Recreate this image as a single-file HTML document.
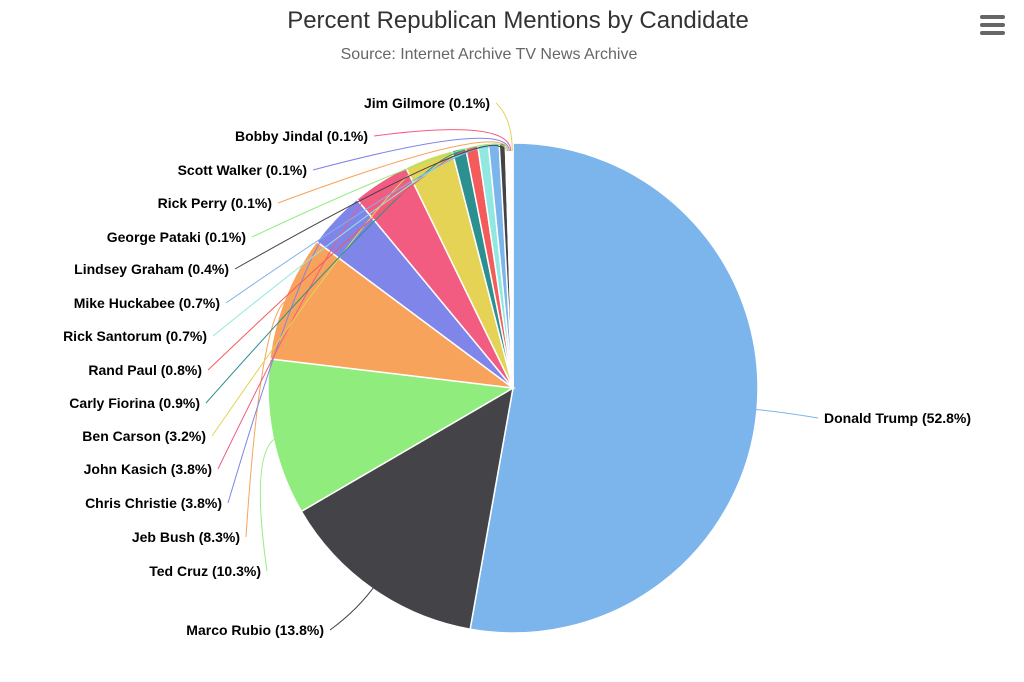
<!DOCTYPE html>
<html><head><meta charset="utf-8"><style>
body{margin:0;background:#fff;width:1024px;height:682px;overflow:hidden;font-family:"Liberation Sans",Arial,sans-serif}
svg{display:block}
</style></head><body>
<svg id="chart" width="1024" height="682" xmlns="http://www.w3.org/2000/svg">
<text x="518" y="28" text-anchor="middle" font-size="24" fill="#333">Percent Republican Mentions by Candidate</text>
<text x="489" y="59" text-anchor="middle" font-size="16" fill="#666">Source: Internet Archive TV News Archive</text>
<g>
<rect x="980" y="15" width="25" height="4" rx="2" fill="#666"/>
<rect x="980" y="23" width="25" height="4" rx="2" fill="#666"/>
<rect x="980" y="31" width="25" height="4" rx="2" fill="#666"/>
</g>
<g id="slices"></g><g id="conns"></g><g id="labels"></g>
</svg>
<script>
const names=["Donald Trump","Marco Rubio","Ted Cruz","Jeb Bush","Chris Christie","John Kasich","Ben Carson","Carly Fiorina","Rand Paul","Rick Santorum","Mike Huckabee","Lindsey Graham","George Pataki","Rick Perry","Scott Walker","Bobby Jindal","Jim Gilmore"];
const values=[52.8,13.8,10.3,8.3,3.8,3.8,3.2,0.9,0.8,0.7,0.7,0.4,0.1,0.1,0.1,0.1,0.1];
const colors=["#7cb5ec","#434348","#90ed7d","#f7a35c","#8085e9","#f15c80","#e4d354","#2b908f","#f45b5b","#91e8e1","#7cb5ec","#434348","#90ed7d","#f7a35c","#8085e9","#f15c80","#e4d354"];
// label layout (pixel positions: anchor end x and baseline y)
const labelPos=[[824,423,"start"],[324,635,"end"],[261,576,"end"],[240,542,"end"],[222,508,"end"],[212,474,"end"],[206,441,"end"],[200,408,"end"],[202,375,"end"],[207,341,"end"],[220,308,"end"],[229,274,"end"],[246,242,"end"],[272,208,"end"],[307,175,"end"],[368,141,"end"],[490,108,"end"]];
const cx=513,cy=388,R=245,NS="http://www.w3.org/2000/svg";
const total=values.reduce((a,b)=>a+b,0);
function pt(a,r){return [cx+r*Math.sin(a),cy-r*Math.cos(a)];}
let a0=0;
const gs=document.getElementById('slices'),gc=document.getElementById('conns'),gl=document.getElementById('labels');
values.forEach((v,i)=>{
  const a1=a0+v/total*2*Math.PI;
  const p0=pt(a0,R),p1=pt(a1,R),large=(a1-a0)>Math.PI?1:0;
  const s=document.createElementNS(NS,'path');
  s.setAttribute('d',`M${cx},${cy}L${p0[0]},${p0[1]}A${R},${R} 0 ${large} 1 ${p1[0]},${p1[1]}Z`);
  s.setAttribute('fill',colors[i]);s.setAttribute('stroke','#fff');s.setAttribute('stroke-width','1.5');
  
  
  gs.appendChild(s);
  const am=(a0+a1)/2,e=pt(am,R-8),c=pt(am,R+25);
  const lp=labelPos[i];
  const lx=lp[2]==="end"?lp[0]+6:lp[0]-6,ly=lp[1]-5;
  const ln=document.createElementNS(NS,'path');
  ln.setAttribute('d',`M${lx},${ly}Q${c[0]},${c[1]} ${e[0]},${e[1]}`);
  ln.setAttribute('fill','none');ln.setAttribute('stroke',colors[i]);ln.setAttribute('stroke-width','1');
  
  
  gc.appendChild(ln);
  const t=document.createElementNS(NS,'text');
  t.setAttribute('x',lp[0]);t.setAttribute('y',lp[1]);t.setAttribute('text-anchor',lp[2]);
  t.setAttribute('font-size','14');t.setAttribute('font-weight','bold');t.setAttribute('fill','#000');
  t.textContent=names[i]+" ("+v.toFixed(1)+"%)";
  
  
  gl.appendChild(t);
  a0=a1;
});
</script>
</body></html>
